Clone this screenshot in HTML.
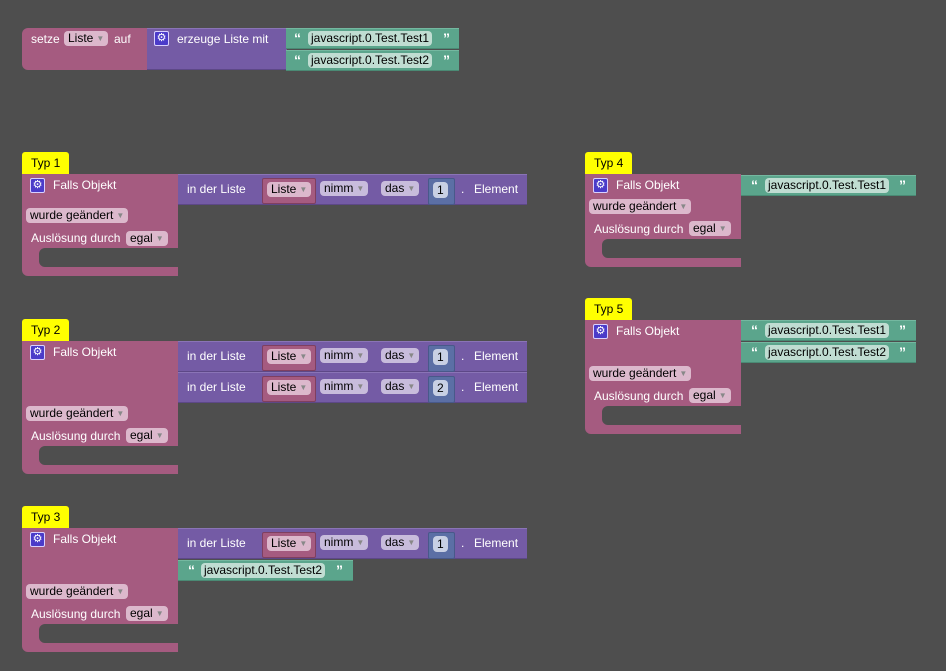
<!DOCTYPE html>
<html><head><meta charset="utf-8"><style>
body{margin:0;width:946px;height:671px;background:#4e4e4e;overflow:hidden;position:relative;font-family:"Liberation Sans",Arial,sans-serif;font-size:12px}
div{position:absolute;box-sizing:border-box}
.p{background:#a55b80}
.v{background:#745ba5;border-top:1px solid #8a74b6;border-bottom:1px solid #5d4887}
.g{background:#5ba58c;border-top:1px solid #74b8a0;border-bottom:1px solid #4a8a74}
.vb{background:#a55b80;border:1px solid #7f3f60;border-radius:2px}
.nb{background:#5b6fa5;border:1px solid #48598a;border-radius:2px}
.t{color:#fff;white-space:nowrap;line-height:14px}
.dd{border-radius:4px;height:15px;line-height:15px;padding:0 4px;color:#000;white-space:nowrap}
.dp{background:#dcb8cc}
.dv{background:#c8bcdc}
.dg{background:#c0ddd2;padding:0 3px}
.dn{background:#c8d0e4;padding:0 4px;height:16px;line-height:16px}
.ar{color:#888;font-size:8px;margin-left:3px;vertical-align:1px}
.q{color:#fff;font-weight:bold;font-size:14px;line-height:14px}
.gear{width:15px;height:15px;background:#4b3bc9;border:1px solid #d9d0ff;border-radius:2px;color:#fff;font-size:11px;line-height:13px;text-align:center}
.c{background:#ffff00;border-radius:3px 3px 0 0;color:#000;line-height:22px;padding-left:9px;height:22px;width:47px}
.gap{background:#4e4e4e;border-radius:6px 0 0 6px}
</style></head><body>

<div class="p" style="left:22px;top:28px;width:126px;height:42px;border-radius:6px 0 0 6px"></div>
<div class="t" style="left:31px;top:32px">setze</div>
<div class="dd dp" style="left:64px;top:31px">Liste<span class="ar">▼</span></div>
<div class="t" style="left:114px;top:32px">auf</div>
<div class="v" style="left:147px;top:28px;width:140px;height:42px"></div>
<div class="gear" style="left:154px;top:31px">⚙</div>
<div class="t" style="left:177px;top:32px">erzeuge Liste mit</div>
<div class="g" style="left:286px;top:28px;width:173px;height:21px"></div>
<div class="q" style="left:294px;top:31px">“</div>
<div class="dd dg" style="left:308px;top:31px">javascript.0.Test.Test1</div>
<div class="q" style="left:443px;top:31px">”</div>
<div class="g" style="left:286px;top:50px;width:173px;height:21px"></div>
<div class="q" style="left:294px;top:53px">“</div>
<div class="dd dg" style="left:308px;top:53px">javascript.0.Test.Test2</div>
<div class="q" style="left:443px;top:53px">”</div>

<div class="c" style="left:22px;top:152px">Typ 1</div>
<div class="p" style="left:22px;top:174px;width:156px;height:102px;border-radius:0 0 0 6px"></div>
<div class="gap" style="left:39px;top:248px;width:139px;height:19px"></div>
<div class="gear" style="left:30px;top:178px">⚙</div>
<div class="t" style="left:53px;top:178px">Falls Objekt</div>
<div class="dd dp" style="left:26px;top:208px">wurde geändert<span class="ar">▼</span></div>
<div class="t" style="left:31px;top:231px">Auslösung durch</div>
<div class="dd dp" style="left:126px;top:231px">egal<span class="ar">▼</span></div>
<div class="v" style="left:178px;top:174px;width:349px;height:31px"></div>
<div class="t" style="left:187px;top:182px">in der Liste</div>
<div class="vb" style="left:262px;top:178px;width:54px;height:26px"></div>
<div class="dd dp" style="left:267px;top:182px">Liste<span class="ar">▼</span></div>
<div class="dd dv" style="left:320px;top:181px">nimm<span class="ar">▼</span></div>
<div class="dd dv" style="left:381px;top:181px">das<span class="ar">▼</span></div>
<div class="nb" style="left:428px;top:178px;width:27px;height:27px"></div>
<div class="dd dn" style="left:433px;top:182px">1</div>
<div class="t" style="left:461px;top:182px">.</div>
<div class="t" style="left:474px;top:182px">Element</div>

<div class="c" style="left:22px;top:319px">Typ 2</div>
<div class="p" style="left:22px;top:341px;width:156px;height:133px;border-radius:0 0 0 6px"></div>
<div class="gap" style="left:39px;top:446px;width:139px;height:19px"></div>
<div class="gear" style="left:30px;top:345px">⚙</div>
<div class="t" style="left:53px;top:345px">Falls Objekt</div>
<div class="dd dp" style="left:26px;top:406px">wurde geändert<span class="ar">▼</span></div>
<div class="t" style="left:31px;top:429px">Auslösung durch</div>
<div class="dd dp" style="left:126px;top:428px">egal<span class="ar">▼</span></div>
<div class="v" style="left:178px;top:341px;width:349px;height:31px"></div>
<div class="t" style="left:187px;top:349px">in der Liste</div>
<div class="vb" style="left:262px;top:345px;width:54px;height:26px"></div>
<div class="dd dp" style="left:267px;top:349px">Liste<span class="ar">▼</span></div>
<div class="dd dv" style="left:320px;top:348px">nimm<span class="ar">▼</span></div>
<div class="dd dv" style="left:381px;top:348px">das<span class="ar">▼</span></div>
<div class="nb" style="left:428px;top:345px;width:27px;height:27px"></div>
<div class="dd dn" style="left:433px;top:349px">1</div>
<div class="t" style="left:461px;top:349px">.</div>
<div class="t" style="left:474px;top:349px">Element</div>
<div class="v" style="left:178px;top:372px;width:349px;height:31px"></div>
<div class="t" style="left:187px;top:380px">in der Liste</div>
<div class="vb" style="left:262px;top:376px;width:54px;height:26px"></div>
<div class="dd dp" style="left:267px;top:380px">Liste<span class="ar">▼</span></div>
<div class="dd dv" style="left:320px;top:379px">nimm<span class="ar">▼</span></div>
<div class="dd dv" style="left:381px;top:379px">das<span class="ar">▼</span></div>
<div class="nb" style="left:428px;top:376px;width:27px;height:27px"></div>
<div class="dd dn" style="left:433px;top:380px">2</div>
<div class="t" style="left:461px;top:380px">.</div>
<div class="t" style="left:474px;top:380px">Element</div>

<div class="c" style="left:22px;top:506px">Typ 3</div>
<div class="p" style="left:22px;top:528px;width:156px;height:124px;border-radius:0 0 0 6px"></div>
<div class="gap" style="left:39px;top:624px;width:139px;height:19px"></div>
<div class="gear" style="left:30px;top:532px">⚙</div>
<div class="t" style="left:53px;top:532px">Falls Objekt</div>
<div class="dd dp" style="left:26px;top:584px">wurde geändert<span class="ar">▼</span></div>
<div class="t" style="left:31px;top:607px">Auslösung durch</div>
<div class="dd dp" style="left:126px;top:606px">egal<span class="ar">▼</span></div>
<div class="v" style="left:178px;top:528px;width:349px;height:31px"></div>
<div class="t" style="left:187px;top:536px">in der Liste</div>
<div class="vb" style="left:262px;top:532px;width:54px;height:26px"></div>
<div class="dd dp" style="left:267px;top:536px">Liste<span class="ar">▼</span></div>
<div class="dd dv" style="left:320px;top:535px">nimm<span class="ar">▼</span></div>
<div class="dd dv" style="left:381px;top:535px">das<span class="ar">▼</span></div>
<div class="nb" style="left:428px;top:532px;width:27px;height:27px"></div>
<div class="dd dn" style="left:433px;top:536px">1</div>
<div class="t" style="left:461px;top:536px">.</div>
<div class="t" style="left:474px;top:536px">Element</div>
<div class="g" style="left:178px;top:560px;width:175px;height:21px"></div>
<div class="q" style="left:188px;top:563px">“</div>
<div class="dd dg" style="left:201px;top:563px">javascript.0.Test.Test2</div>
<div class="q" style="left:336px;top:563px">”</div>

<div class="c" style="left:585px;top:152px">Typ 4</div>
<div class="p" style="left:585px;top:174px;width:156px;height:93px;border-radius:0 0 0 6px"></div>
<div class="gap" style="left:602px;top:239px;width:139px;height:19px"></div>
<div class="gear" style="left:593px;top:178px">⚙</div>
<div class="t" style="left:616px;top:178px">Falls Objekt</div>
<div class="dd dp" style="left:589px;top:199px">wurde geändert<span class="ar">▼</span></div>
<div class="t" style="left:594px;top:222px">Auslösung durch</div>
<div class="dd dp" style="left:689px;top:221px">egal<span class="ar">▼</span></div>
<div class="g" style="left:741px;top:175px;width:175px;height:21px"></div>
<div class="q" style="left:751px;top:178px">“</div>
<div class="dd dg" style="left:765px;top:178px">javascript.0.Test.Test1</div>
<div class="q" style="left:899px;top:178px">”</div>

<div class="c" style="left:585px;top:298px">Typ 5</div>
<div class="p" style="left:585px;top:320px;width:156px;height:114px;border-radius:0 0 0 6px"></div>
<div class="gap" style="left:602px;top:406px;width:139px;height:19px"></div>
<div class="gear" style="left:593px;top:324px">⚙</div>
<div class="t" style="left:616px;top:324px">Falls Objekt</div>
<div class="dd dp" style="left:589px;top:366px">wurde geändert<span class="ar">▼</span></div>
<div class="t" style="left:594px;top:389px">Auslösung durch</div>
<div class="dd dp" style="left:689px;top:388px">egal<span class="ar">▼</span></div>
<div class="g" style="left:741px;top:320px;width:175px;height:21px"></div>
<div class="q" style="left:751px;top:323px">“</div>
<div class="dd dg" style="left:765px;top:323px">javascript.0.Test.Test1</div>
<div class="q" style="left:899px;top:323px">”</div>
<div class="g" style="left:741px;top:342px;width:175px;height:21px"></div>
<div class="q" style="left:751px;top:345px">“</div>
<div class="dd dg" style="left:765px;top:345px">javascript.0.Test.Test2</div>
<div class="q" style="left:899px;top:345px">”</div>

</body></html>
